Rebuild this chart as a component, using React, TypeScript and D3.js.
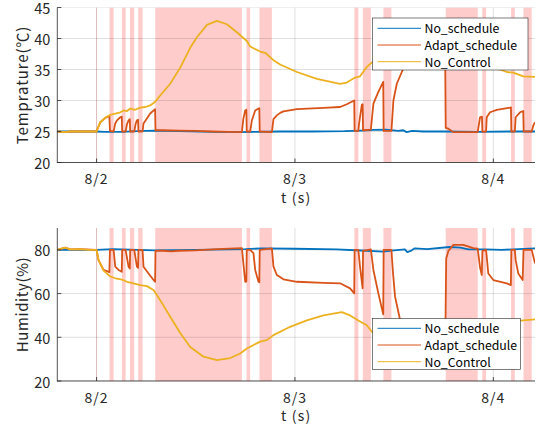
import React from "react";
import * as d3 from "d3";

// Hours are measured from 8/2 00:00.
const BASE_TIME = new Date(2021, 7, 2, 0, 0, 0).getTime();
const toDate = (h: number) => new Date(BASE_TIME + h * 3600e3);

const X_DOMAIN_HOURS: [number, number] = [-4.75, 53.04];
const DAY_TICK_HOURS = [0, 24, 48];
const TEMP_DOMAIN: [number, number] = [20, 45];
const TEMP_TICKS = [20, 25, 30, 35, 40, 45];
const HUM_DOMAIN: [number, number] = [20, 90];
const HUM_TICKS = [20, 40, 60, 80];

const SERIES_NAMES = ["No_schedule", "Adapt_schedule", "No_Control"];
const SERIES_COLORS = ["#0072BD", "#D95319", "#EDB120"];

// Periods when the controller was running [start h, end h]
const controlPeriods: [number, number][] = [
  [-0.04, 0.06], [1.57, 2.06], [3.07, 3.51], [4.04, 4.56], [5.04, 5.56],
  [7.1, 17.58], [18.14, 18.58], [19.71, 21.21], [31.19, 31.67],
  [32.21, 33.18], [34.7, 35.67], [42.24, 46.11], [46.67, 47.12],
  [50.15, 50.6], [51.65, 52.64],
];

// Temperature (°C)
const tempNoSchedule: [number, number][] = [
  [-4.75, 25], [0, 25], [1, 24.95], [3, 24.95], [5, 25.05], [7, 25.15], [10, 25.05],
  [14, 24.95], [17.5, 24.9], [19, 24.95], [22, 25.0], [26, 25.0], [30, 25.05],
  [32, 25.15], [33.5, 25.25], [35, 25.3], [36.5, 25.1], [37.1, 25.2], [37.5, 24.9],
  [38.2, 25.1], [39.5, 25.0], [42, 25.0], [46, 24.95], [50, 25.0], [53.04, 25.0],
];

const tempAdapt: [number, number][] = [
  [-4.75, 25], [-3.78, 24.9], [-3.2, 25], [0, 25], [0.45, 26.5], [1.05, 27.2], [1.55, 27.5],
  [1.62, 25.1], [2.06, 25.0], [2.26, 26.3], [2.47, 26.8], [2.87, 27.3], [3.05, 27.4],
  [3.1, 25.0], [3.51, 25.0], [3.68, 26.2], [3.87, 26.8], [4.02, 27.0],
  [4.07, 25.0], [4.56, 25.0], [4.72, 26.2], [4.88, 26.8], [5.02, 26.9],
  [5.07, 25.0], [5.56, 25.0], [5.68, 26.3], [6.09, 27.1], [6.49, 27.9], [6.98, 28.5], [7.08, 28.6],
  [7.13, 25.2], [8, 25.2], [10, 25.15], [12, 25.1], [14, 25.0], [16, 24.95], [17.58, 24.9],
  [17.75, 27.0], [17.98, 28.4], [18.12, 28.5],
  [18.17, 25.0], [18.58, 25.0], [18.79, 26.8], [19.19, 28.4], [19.59, 28.7], [19.69, 28.75],
  [19.74, 25.0], [21.21, 24.9], [21.4, 27.0], [21.81, 27.6], [22.21, 28.0], [22.61, 28.25],
  [24.23, 28.6], [27.45, 28.8], [29.46, 28.95], [30.27, 29.4], [31.17, 30.0],
  [31.22, 25.1], [31.67, 25.1], [31.76, 26.3], [32.09, 29.3], [32.19, 29.4],
  [32.24, 25.2], [33.18, 25.3], [33.49, 29.5], [34.09, 31.4], [34.68, 33.0],
  [34.73, 25.1], [35.67, 25.1], [35.91, 30.0], [36.32, 32.7], [37.12, 35.2], [38.5, 37.5],
  [40, 38.5], [42.16, 39.0],
  [42.24, 25.6], [42.56, 25.45], [43.16, 24.9], [46.0, 24.9], [46.11, 24.95],
  [46.39, 27.3], [46.62, 27.4],
  [46.68, 24.95], [47.12, 25.0], [47.2, 27.3], [47.6, 28.1], [48.41, 28.5], [50.02, 28.85], [50.13, 28.9],
  [50.18, 25.0], [50.6, 25.0], [50.7, 27.3], [51.23, 28.1], [51.62, 28.3],
  [51.67, 25.0], [52.64, 25.0], [52.84, 26.0], [53.04, 26.5],
];

const tempNoControl: [number, number][] = [
  [-4.75, 25], [-3.78, 24.9], [-3.2, 25], [-1.97, 25], [0, 25], [0.45, 26.5], [1.05, 27.2],
  [1.66, 27.7], [2.26, 27.9], [2.87, 28.1], [3.26, 28.4], [3.68, 28.3], [4.07, 28.7],
  [4.68, 28.5], [5.28, 28.85], [5.89, 28.95], [6.49, 29.2], [7.1, 29.8], [7.7, 30.8],
  [8.91, 32.7], [10.12, 35.3], [11.33, 38.5], [12.14, 40.2], [13.35, 42.2], [14.56, 42.85],
  [15.77, 42.3], [16.97, 41.0], [18.18, 39.6], [18.58, 38.7], [19.79, 37.9], [20.4, 37.7],
  [21.4, 36.5], [22.21, 35.8], [24.23, 34.6], [26.65, 33.5], [29.46, 32.7], [30.27, 32.9],
  [31.28, 33.7], [31.88, 33.9], [32.69, 35.4], [33.09, 35.9], [34.2, 37.0], [36.7, 37.8],
  [40.3, 37.0], [45.2, 35.8], [48.8, 35.0], [49.62, 34.6], [50.42, 34.5], [51.63, 33.9],
  [53.04, 33.8],
];

// Humidity (%)
const humNoSchedule: [number, number][] = [
  [-4.75, 80], [0, 80], [2, 80.3], [5, 80], [7, 79.8], [12, 80], [18, 80.3], [20, 80.7],
  [24, 80.5], [29, 80.2], [32, 79.7], [34.7, 79.2], [36, 79.8], [37.3, 80.2], [37.6, 79.0],
  [38, 79.5], [38.5, 80.7], [40, 80.3], [42.7, 81.3], [44, 81], [45, 80.2], [47, 80.2],
  [49, 80], [51, 80.3], [53.04, 80.7],
];

const humAdapt: [number, number][] = [
  [-4.75, 80], [-3.78, 81], [-3.2, 80.2], [-2, 80.3], [0, 80], [0.24, 75.3], [0.85, 70.8], [1.55, 69.8],
  [1.62, 80], [2.06, 80], [2.26, 72.3], [2.66, 70.8], [3.05, 70.0],
  [3.1, 80], [3.51, 80], [3.87, 72.3], [4.02, 71.5],
  [4.07, 80], [4.56, 80], [4.88, 72.3], [5.02, 71.8],
  [5.07, 80], [5.56, 80], [5.68, 72.3], [6.29, 69.2], [6.89, 66.2], [7.08, 65.4],
  [7.13, 79.5], [8, 79.6], [9, 79.3], [10, 79.6], [12, 79.8], [14, 80.2], [16, 80.6], [17.58, 80.8],
  [17.98, 65.4], [18.12, 65.5],
  [18.17, 80], [18.58, 80], [18.98, 78.5], [19.19, 70.8], [19.59, 65.4], [19.69, 65.2],
  [19.74, 80], [21.21, 80.7], [21.4, 72.3], [21.81, 68.5], [22.61, 66.5], [24.23, 65.4],
  [27.45, 64.9], [29.46, 64.7], [30.67, 62.4], [31.17, 60.1],
  [31.22, 80], [31.67, 80], [31.88, 72], [32.19, 62.4],
  [32.24, 79.5], [33.18, 80.2], [33.49, 70.8], [34.09, 60.1], [34.68, 50.5],
  [34.73, 80], [35.67, 80], [35.85, 70], [36.11, 58.6], [36.72, 47.9], [37.5, 40],
  [39, 34], [41, 31], [42.16, 30],
  [42.3, 76], [42.56, 79.5], [43.16, 82.3], [44.37, 82.3], [45.58, 80.8], [46.11, 80.5],
  [46.39, 72], [46.6, 68.5],
  [46.68, 79.5], [47.12, 80], [47.39, 69.2], [48.0, 66.2], [49.62, 64.7], [50.12, 63.9],
  [50.18, 80], [50.6, 80], [50.7, 75.3], [51.02, 69.2], [51.55, 66.2],
  [51.65, 80], [52.64, 80], [53.04, 73.8],
];

const humNoControl: [number, number][] = [
  [-4.75, 80], [-3.78, 81], [-3.2, 80.2], [-2, 80.3], [-1, 80], [0, 80], [0.24, 75.3],
  [0.85, 70.5], [1.66, 67.8], [2.26, 67.0], [3.07, 66.4], [3.68, 65.4], [4.47, 64.7],
  [5.28, 63.9], [6.09, 63.4], [6.89, 61.6], [7.7, 57.0], [8.91, 49.4], [10.12, 42.0],
  [11.33, 35.6], [12.94, 31.1], [14.56, 29.5], [16.17, 30.5], [17.37, 32.6], [18.18, 34.9],
  [19.79, 38.0], [20.6, 38.7], [21.4, 41.0], [23.42, 44.8], [25.44, 47.7], [27.45, 50.0],
  [29.67, 51.5], [30.67, 50.0], [31.67, 47.7], [32.69, 45.5], [33.3, 42.5], [35, 41],
  [37, 40.5], [40, 42], [44, 44.5], [48, 46.5], [51.63, 47.7], [53.04, 48.2],
];

const FONT = "'Noto Sans CJK JP', 'Noto Sans', sans-serif";
const TEXT = "#262626";

type Box = { x0: number; x1: number; y0: number; y1: number };
type LegendBox = { x0: number; x1: number; y0: number; y1: number; rows: number[] };

function Panel(props: {
  id: string;
  box: Box;
  yDomain: [number, number];
  yTicks: number[];
  yLabel: string;
  yLabelSpacing: number;
  series: [number, number][][];
  legend: LegendBox;
}) {
  const { id, box, yDomain, yTicks, yLabel, yLabelSpacing, series, legend } = props;
  const x = d3
    .scaleTime()
    .domain([toDate(X_DOMAIN_HOURS[0]), toDate(X_DOMAIN_HOURS[1])])
    .range([box.x0, box.x1]);
  const y = d3.scaleLinear().domain(yDomain).range([box.y1, box.y0]);
  const fmt = d3.timeFormat("%-m/%-d");
  const line = d3
    .line<[number, number]>()
    .x((d) => x(toDate(d[0])))
    .y((d) => y(d[1]));
  const clipId = `clip-${id}`;
  const dayTicks = DAY_TICK_HOURS.map(toDate);

  return (
    <g>
      <defs>
        <clipPath id={clipId}>
          <rect x={box.x0} y={box.y0} width={box.x1 - box.x0} height={box.y1 - box.y0} />
        </clipPath>
      </defs>
      <g clipPath={`url(#${clipId})`}>
        {controlPeriods.map(([a, b], i) => (
          <rect
            key={i}
            x={x(toDate(a))}
            y={box.y0}
            width={Math.max(0.8, x(toDate(b)) - x(toDate(a)))}
            height={box.y1 - box.y0}
            fill="#FFCCCC"
          />
        ))}
        {yTicks.map((t) => (
          <line key={`gy${t}`} x1={box.x0} x2={box.x1} y1={y(t)} y2={y(t)} stroke={TEXT} strokeOpacity={0.15} strokeWidth={1} />
        ))}
        {dayTicks.map((d, i) => (
          <line key={`gx${i}`} x1={x(d)} x2={x(d)} y1={box.y0} y2={box.y1} stroke={TEXT} strokeOpacity={0.15} strokeWidth={1} />
        ))}
        {series.map((s, i) => (
          <path
            key={i}
            d={line(s) || ""}
            fill="none"
            stroke={SERIES_COLORS[i]}
            strokeWidth={1.8}
            strokeLinejoin="round"
          />
        ))}
      </g>
      {/* axes */}
      <line x1={box.x0} x2={box.x0} y1={box.y0} y2={box.y1 + 0.5} stroke={TEXT} strokeWidth={0.8} />
      <line x1={box.x0} x2={box.x1} y1={box.y1} y2={box.y1} stroke={TEXT} strokeWidth={0.8} />
      {yTicks.map((t) => (
        <g key={`ty${t}`}>
          <line x1={box.x0} x2={box.x0 + 4} y1={y(t)} y2={y(t)} stroke={TEXT} strokeWidth={0.8} />
          <text x={box.x0 - 7} y={y(t)} textAnchor="end" dominantBaseline="central" fontSize={14.5} fontFamily={FONT} fill={TEXT}>
            {t}
          </text>
        </g>
      ))}
      {dayTicks.map((d, i) => (
        <g key={`tx${i}`}>
          <line x1={x(d)} x2={x(d)} y1={box.y1} y2={box.y1 - 4} stroke={TEXT} strokeWidth={0.8} />
          <text
            x={x(d)}
            y={box.y1 + 15.5}
            textAnchor="middle"
            dominantBaseline="central"
            fontSize={14}
            letterSpacing={1}
            fontFamily={FONT}
            fill={TEXT}
          >
            {fmt(d)}
          </text>
        </g>
      ))}
      <text
        x={(box.x0 + box.x1) / 2}
        y={box.y1 + 34}
        textAnchor="middle"
        dominantBaseline="central"
        fontSize={14}
        letterSpacing={1.2}
        fontFamily={FONT}
        fill={TEXT}
      >
        t (s)
      </text>
      <text
        transform={`translate(21.7, ${(box.y0 + box.y1) / 2}) rotate(-90)`}
        textAnchor="middle"
        dominantBaseline="central"
        fontSize={15}
        letterSpacing={yLabelSpacing}
        fontFamily={FONT}
        fill={TEXT}
      >
        {yLabel}
      </text>
      {/* legend */}
      <rect
        x={legend.x0}
        y={legend.y0}
        width={legend.x1 - legend.x0}
        height={legend.y1 - legend.y0}
        fill="#FFFFFF"
        stroke={TEXT}
        strokeWidth={0.6}
      />
      {SERIES_NAMES.map((name, i) => (
        <g key={name}>
          <line
            x1={legend.x0 + 5}
            x2={legend.x0 + 48.5}
            y1={legend.rows[i]}
            y2={legend.rows[i]}
            stroke={SERIES_COLORS[i]}
            strokeWidth={1}
          />
          <text
            x={legend.x0 + 52}
            y={legend.rows[i]}
            dominantBaseline="central"
            fontSize={12.3}
            fontFamily={FONT}
            fill="#000000"
          >
            {name}
          </text>
        </g>
      ))}
    </g>
  );
}

export default function App() {
  return (
    <svg width={538} height={427} style={{ position: "absolute", left: 0, top: 0, background: "#fff" }}>
      <rect width={538} height={427} fill="#fff" />
      <Panel
        id="temp"
        box={{ x0: 57.3, x1: 535, y0: 7.5, y1: 162.5 }}
        yDomain={TEMP_DOMAIN}
        yTicks={TEMP_TICKS}
        yLabel="Temprature(℃)"
        yLabelSpacing={0.9}
        series={[tempNoSchedule, tempAdapt, tempNoControl]}
        legend={{ x0: 372.5, x1: 528, y0: 18, y1: 70, rows: [28.3, 45, 61.7] }}
      />
      <Panel
        id="hum"
        box={{ x0: 57.3, x1: 535, y0: 228, y1: 381 }}
        yDomain={HUM_DOMAIN}
        yTicks={HUM_TICKS}
        yLabel="Humidity(%)"
        yLabelSpacing={0.6}
        series={[humNoSchedule, humAdapt, humNoControl]}
        legend={{ x0: 372.5, x1: 520.5, y0: 318.5, y1: 369.5, rows: [328.3, 345, 361.7] }}
      />
    </svg>
  );
}
